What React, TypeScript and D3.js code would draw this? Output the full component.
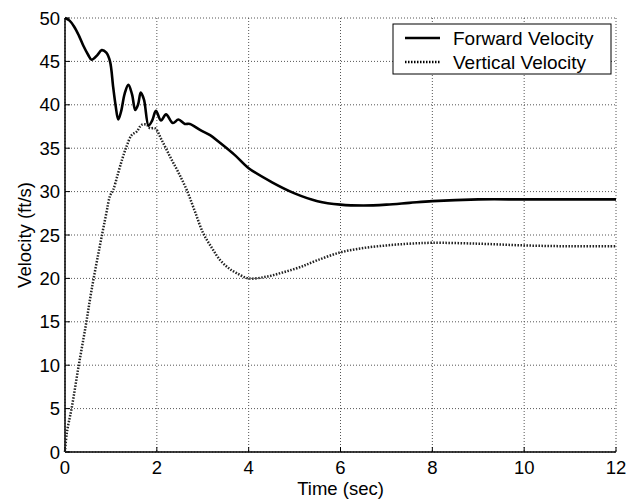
import React from 'react';
import * as d3 from 'd3';

const svgWidth = 643;
const svgHeight = 500;
const margin = { top: 18, right: 27, bottom: 48, left: 65 };
const plotW = svgWidth - margin.left - margin.right;
const plotH = svgHeight - margin.top - margin.bottom;

const xTicks = [0, 2, 4, 6, 8, 10, 12];
const yTicks = [0, 5, 10, 15, 20, 25, 30, 35, 40, 45, 50];

const forwardTime = [0, 0.1, 0.2, 0.3, 0.4, 0.5, 0.58, 0.7, 0.8, 0.9, 0.98, 1.05, 1.1, 1.16, 1.22, 1.3, 1.38, 1.46, 1.53, 1.59, 1.65, 1.72, 1.82, 1.9, 1.98, 2.09, 2.2, 2.35, 2.47, 2.61, 2.72, 2.94, 3.16, 3.38, 3.7, 4.0, 4.5, 5.0, 5.5, 6.0, 6.5, 7.0, 7.5, 8.0, 9.0, 10.0, 11.0, 12.0];
const forwardVel = [50, 49.7, 49, 48, 46.8, 45.8, 45.2, 45.7, 46.3, 46.0, 45, 42, 40, 38.3, 39.2, 41.3, 42.3, 41.2, 39.4, 40.0, 41.4, 40.6, 37.6, 38.2, 39.3, 38.2, 38.9, 37.9, 38.3, 37.8, 37.8, 37.1, 36.5, 35.6, 34.2, 32.7, 31.1, 29.8, 28.9, 28.5, 28.4, 28.5, 28.7, 28.9, 29.1, 29.1, 29.1, 29.1];

const verticalTime = [0, 0.04, 0.15, 0.3, 0.45, 0.58, 0.75, 0.9, 0.98, 1.05, 1.15, 1.25, 1.34, 1.45, 1.56, 1.67, 1.78, 1.85, 1.96, 2.1, 2.29, 2.47, 2.65, 2.83, 3.01, 3.2, 3.38, 3.56, 3.74, 4.0, 4.39, 4.75, 5.12, 5.5, 6.0, 6.5, 7.0, 7.5, 8.0, 9.0, 10.0, 11.0, 12.0];
const verticalVel = [0, 2.2, 5.2, 10, 14.5, 18.7, 23.5, 27.5, 29.5, 30.2, 32, 33.8, 35.2, 36.5, 36.9, 37.7, 37.7, 37.3, 37.3, 36, 34, 32.2, 30.2, 27.7, 25.2, 23.5, 22.1, 21.2, 20.6, 20, 20.2, 20.7, 21.3, 22.1, 23, 23.5, 23.8, 24.0, 24.1, 24.0, 23.8, 23.7, 23.7];

const legendLabels = ['Forward Velocity', 'Vertical Velocity'];

const font = 'Arial, "Liberation Sans", Helvetica, sans-serif';

export default function App() {
  const x = d3.scaleLinear().domain([0, 12]).range([0, plotW]);
  const y = d3.scaleLinear().domain([0, 50]).range([plotH, 0]);

  const makePath = d3
    .line<[number, number]>()
    .x((d) => x(d[0]))
    .y((d) => y(d[1]))
    .curve(d3.curveCatmullRom.alpha(0.5));

  const fwdPath = makePath(forwardTime.map((t, i) => [t, forwardVel[i]] as [number, number]));
  const vertPath = makePath(verticalTime.map((t, i) => [t, verticalVel[i]] as [number, number]));

  return (
    <svg
      width={svgWidth}
      height={svgHeight}
      style={{ position: 'absolute', left: 0, top: 0, background: '#fff' }}
      fontFamily={font}
    >
      <g transform={`translate(${margin.left},${margin.top})`}>
        {/* grid */}
        {xTicks.map((t) => (
          <line key={'gx' + t} x1={x(t)} x2={x(t)} y1={0} y2={plotH} stroke="#555" strokeWidth={1} strokeDasharray="1,2" />
        ))}
        {yTicks.map((t) => (
          <line key={'gy' + t} x1={0} x2={plotW} y1={y(t)} y2={y(t)} stroke="#555" strokeWidth={1} strokeDasharray="1,2" />
        ))}

        {/* axes */}
        <line x1={0} x2={plotW} y1={plotH} y2={plotH} stroke="#000" strokeWidth={1.5} />
        <line x1={0} x2={0} y1={0} y2={plotH} stroke="#000" strokeWidth={1.5} />
        {xTicks.map((t) => (
          <g key={'xt' + t}>
            <line x1={x(t)} x2={x(t)} y1={plotH} y2={plotH - 5} stroke="#000" />
            <text x={x(t)} y={plotH + 22} textAnchor="middle" fontSize={18.5}>
              {t}
            </text>
          </g>
        ))}
        {yTicks.map((t) => (
          <g key={'yt' + t}>
            <line x1={0} x2={5} y1={y(t)} y2={y(t)} stroke="#000" />
            <text x={-5} y={y(t) + 6.5} textAnchor="end" fontSize={18.5}>
              {t}
            </text>
          </g>
        ))}

        {/* series */}
        <path d={vertPath || ''} fill="none" stroke="#222" strokeWidth={2.5} strokeDasharray="1.5,1.5" />
        <path d={fwdPath || ''} fill="none" stroke="#000" strokeWidth={2.6} strokeLinejoin="round" />

        {/* legend */}
        <g transform={`translate(${393 - margin.left},${24 - margin.top})`}>
          <rect x={0} y={0} width={218} height={50} fill="#fff" stroke="#000" strokeWidth={1} />
          {legendLabels.map((lab, i) => (
            <g key={lab} transform={`translate(0,${14 + i * 24})`}>
              <line
                x1={12}
                x2={47}
                y1={0}
                y2={0}
                stroke="#000"
                strokeWidth={i === 0 ? 2.6 : 2.5}
                strokeDasharray={i === 0 ? undefined : '1.5,1.5'}
              />
              <text x={60} y={6.5} fontSize={19}>
                {lab}
              </text>
            </g>
          ))}
        </g>
      </g>

      <text x={margin.left + plotW / 2} y={495} textAnchor="middle" fontSize={18.5}>
        Time (sec)
      </text>
      <text
        transform={`translate(31,${margin.top + plotH / 2}) rotate(-90)`}
        textAnchor="middle"
        fontSize={18.5}
      >
        Velocity (ft/s)
      </text>
    </svg>
  );
}
